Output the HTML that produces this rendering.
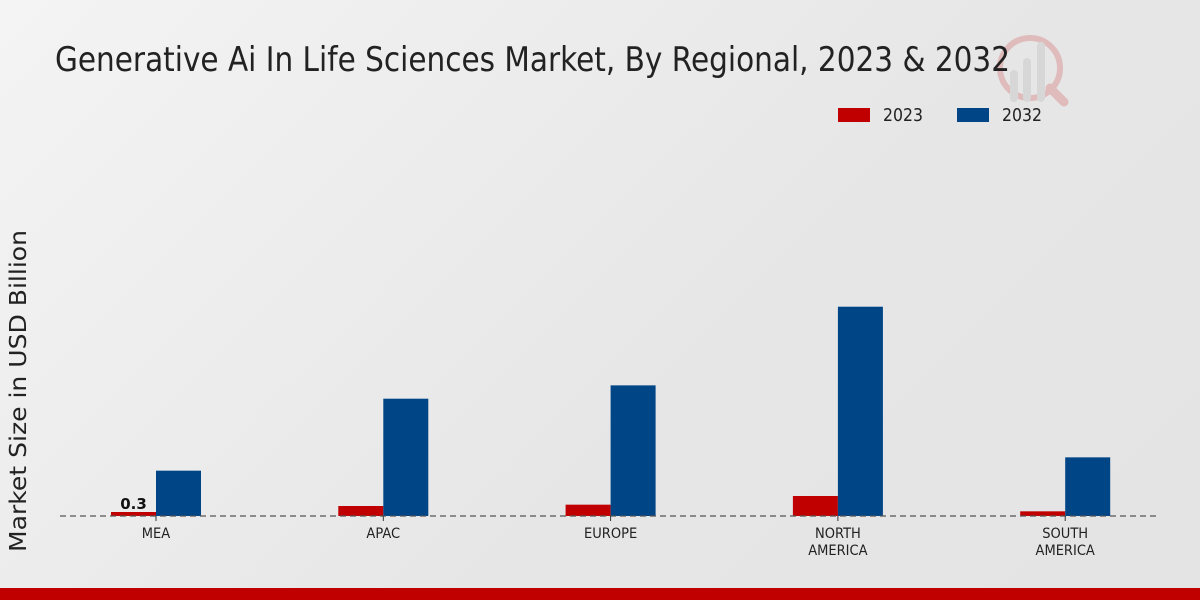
<!DOCTYPE html>
<html><head><meta charset="utf-8"><style>
html,body{margin:0;padding:0}
body{width:1200px;height:600px;overflow:hidden;background:linear-gradient(135deg,#f4f4f4 0%,#e6e6e6 60%,#e4e4e4 100%);font-family:"DejaVu Sans","Liberation Sans",sans-serif;position:relative}
</style></head><body>
<svg id="chart" width="1200" height="600" viewBox="0 0 1200 600" style="position:absolute;left:0;top:0">
<g opacity="0.18">
<circle cx="1030" cy="68" r="30" fill="none" stroke="#c00000" stroke-width="6"/>
<line x1="1050" y1="88" x2="1064" y2="102" stroke="#c00000" stroke-width="9" stroke-linecap="round"/>
<rect x="1010" y="70" width="8" height="32" rx="4" fill="#999"/>
<rect x="1023" y="58" width="8" height="44" rx="4" fill="#999"/>
<rect x="1037" y="42" width="8" height="60" rx="4" fill="#999"/>
</g>
<text x="55" y="71" font-family="'DejaVu Sans',sans-serif" font-size="34" fill="#222" textLength="955" lengthAdjust="spacingAndGlyphs">Generative Ai In Life Sciences Market, By Regional, 2023 &amp; 2032</text>
<g>
<rect x="838" y="108" width="32" height="14" fill="#c00000"/>
<text x="883" y="121" font-size="18" fill="#222" textLength="40" lengthAdjust="spacingAndGlyphs">2023</text>
<rect x="957" y="108" width="32" height="14" fill="#004586"/>
<text x="1002" y="121" font-size="18" fill="#222" textLength="40" lengthAdjust="spacingAndGlyphs">2032</text>
</g>
<text transform="translate(26,391) rotate(-90)" text-anchor="middle" font-size="23" fill="#222" textLength="322" lengthAdjust="spacingAndGlyphs">Market Size in USD Billion</text>
<g id="bars"></g>
<line x1="60" y1="516" x2="1160" y2="516" stroke="#555" stroke-width="1.2" stroke-dasharray="6,4"/>
<g id="xlabels"></g>
<rect x="0" y="588" width="1200" height="12" fill="#c00000"/>
</svg>
<script>
const categories=[["MEA"],["APAC"],["EUROPE"],["NORTH","AMERICA"],["SOUTH","AMERICA"]];
const values2023=[0.3,0.75,0.85,1.5,0.35];
const values2032=[3.4,8.8,9.8,15.7,4.4];
const NS="http://www.w3.org/2000/svg";
const base=516,pxPer=13.33,x0=156,step=227.3,bw=45;
const y=v=>base-v*pxPer;
const xc=i=>x0+i*step;
const bars=document.getElementById('bars'),xl=document.getElementById('xlabels');
categories.forEach((c,i)=>{
  [[values2023,'#c00000',-bw,'2023'],[values2032,'#004586',0,'2032']].forEach(([arr,col,off,yr])=>{
    const r=document.createElementNS(NS,'rect');
    r.setAttribute('x',xc(i)+off);r.setAttribute('y',y(arr[i]));
    r.setAttribute('width',bw);r.setAttribute('height',base-y(arr[i]));r.setAttribute('fill',col);
    
    
    bars.appendChild(r);
  });
  const tk=document.createElementNS(NS,'line');
  tk.setAttribute('x1',xc(i));tk.setAttribute('x2',xc(i));tk.setAttribute('y1',516);tk.setAttribute('y2',521);tk.setAttribute('stroke','#333');
  
  
  xl.appendChild(tk);
  const t=document.createElementNS(NS,'text');
  t.setAttribute('text-anchor','middle');t.setAttribute('font-size','14.5');t.setAttribute('fill','#222');
  t.setAttribute('transform','translate('+xc(i)+',0) scale(0.9,1) translate('+(-xc(i))+',0)');
  
  
  c.forEach((s,j)=>{const ts=document.createElementNS(NS,'tspan');ts.setAttribute('x',xc(i));ts.setAttribute('y',538+j*17);ts.textContent=s;t.appendChild(ts);});
  xl.appendChild(t);
});
const lbl=document.createElementNS(NS,'text');
lbl.setAttribute('x',xc(0)-bw/2);lbl.setAttribute('y',y(values2023[0])-3);
lbl.setAttribute('text-anchor','middle');lbl.setAttribute('font-size','15');lbl.setAttribute('font-weight','bold');lbl.setAttribute('fill','#111');


lbl.textContent=values2023[0];
bars.appendChild(lbl);
</script>
</body></html>
